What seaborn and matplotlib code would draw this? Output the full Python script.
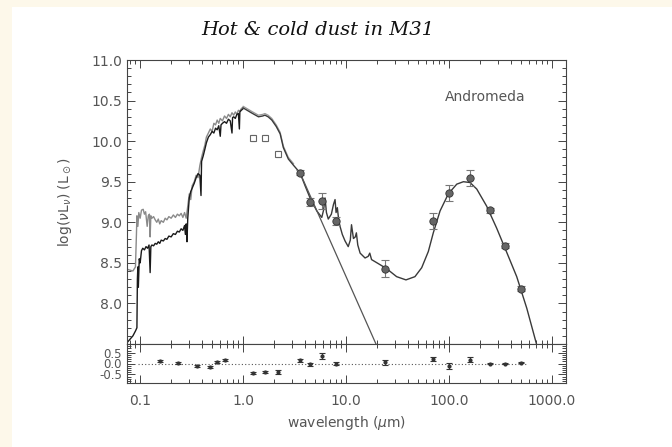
import numpy as np
import pandas as pd
import matplotlib
matplotlib.use("Agg")
import matplotlib.pyplot as plt
import matplotlib.ticker as mticker
from matplotlib.patches import Rectangle
import seaborn as sns

# ---------------- data ----------------
gray_wl = [0.075, 0.085, 0.090, 0.092, 0.093, 0.095, 0.097, 0.100, 0.103, 0.107,
           0.110, 0.113, 0.117, 0.120, 0.123, 0.125, 0.127, 0.130, 0.135, 0.140,
           0.145, 0.150, 0.155, 0.160, 0.168, 0.175, 0.182, 0.190, 0.200, 0.210,
           0.220, 0.230, 0.240, 0.250, 0.260, 0.270, 0.280, 0.290, 0.300, 0.310,
           0.320, 0.335, 0.350, 0.365, 0.380, 0.395, 0.410, 0.425, 0.440, 0.460,
           0.480, 0.500, 0.520, 0.540, 0.560, 0.580, 0.600, 0.630, 0.660, 0.690,
           0.720, 0.750, 0.780, 0.810, 0.840, 0.870, 0.900, 0.930, 0.960, 1.000]
gray_val = [8.42, 8.40, 8.45, 8.85, 9.08, 8.95, 9.12, 9.05, 9.15, 9.16,
            9.10, 9.13, 8.95, 9.08, 9.10, 8.82, 9.08, 9.05, 9.07, 9.03,
            9.00, 9.04, 8.98, 9.02, 9.00, 9.05, 9.03, 9.07, 9.05, 9.09,
            9.06, 9.10, 9.08, 9.11, 9.06, 9.12, 9.05, 9.20, 9.35, 9.28,
            9.45, 9.50, 9.58, 9.55, 9.70, 9.80, 9.88, 9.95, 10.05, 10.10,
            10.15, 10.12, 10.22, 10.20, 10.26, 10.22, 10.28, 10.25, 10.31, 10.28,
            10.33, 10.30, 10.35, 10.32, 10.36, 10.33, 10.38, 10.37, 10.40, 10.42]

black_wl = [0.075, 0.085, 0.090, 0.093, 0.094, 0.095, 0.096, 0.098, 0.100, 0.103,
            0.106, 0.110, 0.114, 0.118, 0.122, 0.125, 0.127, 0.130, 0.135, 0.140,
            0.145, 0.150, 0.155, 0.160, 0.168, 0.175, 0.182, 0.190, 0.200, 0.210,
            0.220, 0.230, 0.240, 0.250, 0.260, 0.270, 0.275, 0.280, 0.285, 0.290,
            0.300, 0.310, 0.320, 0.335, 0.350, 0.365, 0.380, 0.390, 0.395, 0.410,
            0.425, 0.440, 0.460, 0.480, 0.500, 0.520, 0.540, 0.560, 0.580, 0.600,
            0.610, 0.630, 0.660, 0.690, 0.720, 0.750, 0.780, 0.790, 0.810, 0.840,
            0.870, 0.900, 0.920, 0.930, 0.960, 1.000]
black_val = [7.52, 7.60, 7.66, 7.70, 8.30, 8.45, 8.20, 8.55, 8.50, 8.65,
             8.68, 8.66, 8.70, 8.68, 8.72, 8.38, 8.70, 8.72, 8.71, 8.74,
             8.73, 8.76, 8.74, 8.78, 8.77, 8.80, 8.79, 8.83, 8.82, 8.86,
             8.85, 8.89, 8.88, 8.92, 8.90, 8.96, 8.85, 8.98, 8.76, 9.05,
             9.30, 9.38, 9.42, 9.48, 9.55, 9.60, 9.58, 9.33, 9.75, 9.82,
             9.90, 9.98, 10.05, 10.08, 10.12, 10.10, 10.16, 10.14, 10.19, 10.06,
             10.20, 10.22, 10.24, 10.22, 10.27, 10.25, 10.10, 10.29, 10.30, 10.28,
             10.33, 10.34, 10.15, 10.36, 10.38, 10.40]

total_wl = [1.0, 1.2, 1.41, 1.55, 1.63, 1.75, 1.9, 2.1, 2.29, 2.46,
            2.75, 3.1, 3.57, 4.0, 4.47, 5.2, 5.81, 6.05, 6.25, 6.45,
            6.72, 7.2, 7.55, 7.82, 8.0, 8.23, 8.5, 8.74, 9.2, 9.78,
            10.5, 11.0, 11.3, 11.8, 12.3, 12.6, 13.0, 13.7, 15.3, 16.4,
            17.0, 17.7, 20.0, 24.7, 31.0, 38.2, 46.7, 54.3, 63.0, 70.4,
            81.9, 98.5, 119.0, 138.0, 160.0, 186.0, 232.0, 290.0, 361.0, 455.0,
            570.0, 708.0, 760.0]
total_val = [10.41, 10.35, 10.30, 10.31, 10.32, 10.30, 10.26, 10.18, 10.09, 9.92,
             9.78, 9.70, 9.61, 9.45, 9.30, 9.14, 9.06, 9.15, 9.30, 9.12,
             9.04, 9.10, 9.22, 9.28, 9.12, 9.18, 9.02, 8.95, 8.85, 8.77,
             8.70, 8.78, 8.97, 8.80, 8.82, 8.87, 8.72, 8.62, 8.56, 8.58,
             8.62, 8.54, 8.50, 8.43, 8.33, 8.29, 8.33, 8.44, 8.64, 8.87,
             9.14, 9.35, 9.47, 9.50, 9.49, 9.41, 9.20, 8.93, 8.64, 8.33,
             7.94, 7.50, 7.30]

# near-IR stellar model (drawn gray, runs just above the total model)
nirmod_wl = [1.0, 1.2, 1.41, 1.55, 1.63, 1.75, 1.9, 2.1, 2.29, 2.46, 2.75, 3.1]
nirmod_val = [10.43, 10.37, 10.32, 10.33, 10.34, 10.32, 10.28, 10.20, 10.11, 9.94, 9.80, 9.72]

stellar_wl = [3.57, 21.0]
stellar_val = [9.61, 7.41]

# photometry: filled circles
phot_wl = [3.6, 4.5, 5.8, 8.0, 24.0, 70.0, 100.0, 160.0, 250.0, 350.0, 500.0]
phot_val = [9.61, 9.25, 9.26, 9.02, 8.43, 9.02, 9.36, 9.55, 9.15, 8.71, 8.18]
phot_err = [0.03, 0.05, 0.10, 0.05, 0.10, 0.10, 0.10, 0.10, 0.03, 0.03, 0.03]

# 2MASS open squares
nir_wl = [1.25, 1.65, 2.2]
nir_val = [10.04, 10.04, 9.84]
nir_err = [0.04, 0.04, 0.04]

# residuals
res_wl = [0.156, 0.235, 0.355, 0.478, 0.556, 0.668, 1.25, 1.65, 2.2,
          3.6, 4.5, 5.8, 8.0, 24.0, 70.0, 100.0, 160.0, 250.0, 350.0, 500.0]
res_val = [0.11, 0.03, -0.11, -0.16, 0.08, 0.16, -0.43, -0.40, -0.40,
           0.14, -0.03, 0.34, -0.02, 0.05, 0.20, -0.12, 0.17, 0.00, 0.00, 0.04]
res_err = [0.04, 0.03, 0.05, 0.05, 0.04, 0.04, 0.06, 0.06, 0.08,
           0.06, 0.07, 0.15, 0.07, 0.12, 0.10, 0.15, 0.12, 0.04, 0.04, 0.03]

xtick_vals = [0.1, 1.0, 10.0, 100.0, 1000.0]
xtick_labels = ["0.1", "1.0", "10.0", "100.0", "1000.0"]

# ---------------- styling ----------------
sns.set_style("ticks")
plt.rcParams["font.family"] = ["DejaVu Sans"]
plt.rcParams["mathtext.fontset"] = "dejavusans"

TXT = "#555555"
SPN = "#444444"

fig = plt.figure(figsize=(6.72, 4.47), dpi=100)
fig.patch.set_facecolor("#fdf8ea")
bg = Rectangle((12 / 672, 0), 1 - 12 / 672, 1 - 7 / 447,
               transform=fig.transFigure, facecolor="white",
               edgecolor="none", zorder=-10)
fig.patches.append(bg)

L, W = 126.7 / 672, (566 - 126.7) / 672
ax = fig.add_axes([L, (447 - 344) / 447, W, (344 - 60) / 447])
axr = fig.add_axes([L, (447 - 383) / 447, W, (383 - 344) / 447], sharex=ax)

for a in (ax, axr):
    a.set_facecolor("white")
    a.set_xscale("log")
    for s in a.spines.values():
        s.set_color(SPN)
        s.set_linewidth(0.8)
    a.tick_params(which="both", direction="in", top=True, right=True,
                  color=SPN, labelcolor=TXT, labelsize=10, width=0.7)
    a.tick_params(which="major", length=6)
    a.tick_params(which="minor", length=3)

# spectra
sns.lineplot(x=gray_wl, y=gray_val, ax=ax, color="#8a8a8a", linewidth=1.0,
             estimator=None, sort=False)
sns.lineplot(x=black_wl, y=black_val, ax=ax, color="#1a1a1a", linewidth=1.0,
             estimator=None, sort=False)
sns.lineplot(x=nirmod_wl, y=nirmod_val, ax=ax, color="#999999", linewidth=0.9,
             estimator=None, sort=False)
sns.lineplot(x=total_wl, y=total_val, ax=ax, color="#3a3a3a", linewidth=1.0,
             estimator=None, sort=False)
sns.lineplot(x=stellar_wl, y=stellar_val, ax=ax, color="#555555", linewidth=0.9,
             estimator=None, sort=False)

# photometry
ax.errorbar(phot_wl, phot_val, yerr=phot_err, fmt="none", ecolor="#777777",
            elinewidth=0.8, capsize=3, capthick=0.8, zorder=3)
sns.scatterplot(x=phot_wl, y=phot_val, ax=ax, s=28, color="#666666",
                edgecolor="#333333", linewidth=0.6, zorder=4)
ax.errorbar(nir_wl, nir_val, yerr=nir_err, fmt="s", mfc="white", mec="#666666",
            ecolor="#666666", ms=5, mew=0.8, elinewidth=0.8, capsize=1.5, zorder=4)

ax.set_xlim(0.074, 1370)
ax.set_ylim(7.5, 11.0)
ax.yaxis.set_major_locator(mticker.FixedLocator([8.0, 8.5, 9.0, 9.5, 10.0, 10.5, 11.0]))
ax.yaxis.set_major_formatter(mticker.FormatStrFormatter("%.1f"))
ax.yaxis.set_minor_locator(mticker.MultipleLocator(0.1))
ax.tick_params(axis="x", which="both", labelbottom=False)
ax.set_ylabel(r"log($\nu$L$_\nu$) (L$_\odot$)", color=TXT, fontsize=10)
ax.yaxis.set_label_coords(-0.12, 0.5)
ax.text(0.816, 0.87, "Andromeda", transform=ax.transAxes, ha="center",
        va="center", color=TXT, fontsize=10)

# residuals
axr.hlines(0.0, 0.095, 560, colors="#555555", linestyles=(0, (1, 2)), linewidth=0.8)
axr.errorbar(res_wl, res_val, yerr=res_err, fmt="o", ms=2, color="#333333",
             ecolor="#333333", elinewidth=0.8, capsize=2, capthick=0.8)
axr.set_ylim(-0.9, 0.9)
axr.yaxis.set_major_locator(mticker.FixedLocator([-0.5, 0.0, 0.5]))
axr.yaxis.set_major_formatter(mticker.FormatStrFormatter("%.1f"))
axr.yaxis.set_minor_locator(mticker.MultipleLocator(0.1))
axr.tick_params(axis="y", labelsize=8.5)
axr.set_xticks(xtick_vals)
axr.set_xticklabels(xtick_labels)
axr.xaxis.set_minor_locator(mticker.LogLocator(base=10, subs=np.arange(2, 10)))
axr.xaxis.set_minor_formatter(mticker.NullFormatter())
axr.tick_params(axis="x", which="major", pad=8)
axr.set_xlim(0.074, 1370)
axr.set_xlabel(r"wavelength ($\mu$m)", color=TXT, fontsize=10, labelpad=4)

fig.text(318 / 672, 1 - 30 / 447, "Hot & cold dust in M31",
         ha="center", va="center", fontsize=14, color="#111111",
         family="DejaVu Serif", style="italic")

fig.savefig("out.png", dpi=100, facecolor=fig.get_facecolor())
